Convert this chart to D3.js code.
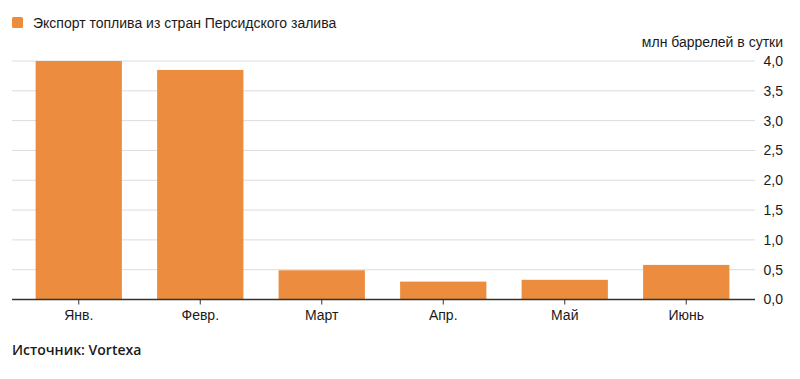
<!DOCTYPE html>
<html lang="ru">
<head>
<meta charset="UTF-8">
<title>Экспорт топлива</title>
<script src="https://d3js.org/d3.v7.min.js"></script>
<style>
  body { margin: 0; background: #fff; }
  text { font-family: "Liberation Sans", Arial, sans-serif; fill: #1a1a1a; }
  text.source { font-family: "Open Sans", sans-serif; font-weight: 600; }
</style>
</head>
<body>
<div id="chart"></div>
<script>
const months = ["Янв.", "Февр.", "Март", "Апр.", "Май", "Июнь"];
const exports = [4.0, 3.85, 0.49, 0.30, 0.33, 0.58];
const yTicks = [0, 0.5, 1, 1.5, 2, 2.5, 3, 3.5, 4];

const width = 800, height = 379;
const orange = "#eb8c3f";

const svg = d3.select("#chart").append("svg")
  .attr("width", width)
  .attr("height", height);

const x = d3.scaleBand()
  .domain(months)
  .range([18, 747])
  .paddingInner(0.29)
  .paddingOuter(0.145);

const y = d3.scaleLinear()
  .domain([0, 4])
  .range([299.5, 61]);

// gridlines
svg.append("g")
  .selectAll("line")
  .data(yTicks.filter(d => d > 0))
  .join("line")
  .attr("x1", 12).attr("x2", 755)
  .attr("y1", d => y(d)).attr("y2", d => y(d))
  .attr("stroke", "#dcdcdc")
  .attr("stroke-width", 1);

// y labels
svg.append("g")
  .selectAll("text")
  .data(yTicks)
  .join("text")
  .attr("x", 783)
  .attr("y", d => y(d))
  .attr("dy", "0.35em")
  .attr("text-anchor", "end")
  .attr("font-size", 14)
  .text(d => d3.format(".1f")(d).replace(".", ","));

svg.append("text")
  .attr("x", 783).attr("y", 47)
  .attr("text-anchor", "end")
  .attr("font-size", 14)
  .text("млн баррелей в сутки");

// bars
svg.append("g")
  .selectAll("rect")
  .data(exports)
  .join("rect")
  .attr("x", (d, i) => x(months[i]))
  .attr("width", x.bandwidth())
  .attr("y", d => y(d))
  .attr("height", d => y(0) - y(d))
  .attr("fill", orange);

// x axis
const xAxis = svg.append("g")
  .attr("transform", `translate(0, ${y(0)})`)
  .call(d3.axisBottom(x).tickSize(5).tickPadding(6).tickSizeOuter(0));
xAxis.select(".domain").attr("d", "M12,0H755").attr("stroke", "#333").attr("stroke-width", 1.3);
xAxis.selectAll(".tick line").attr("stroke", "#333");
xAxis.selectAll(".tick text")
  .attr("font-size", 14)
  .attr("fill", "#1a1a1a");

// legend
svg.append("rect")
  .attr("x", 12).attr("y", 17)
  .attr("width", 11).attr("height", 11)
  .attr("rx", 1.5)
  .attr("fill", orange);
svg.append("text")
  .attr("x", 33).attr("y", 23)
  .attr("dy", "0.35em")
  .attr("font-size", 14)
  .text("Экспорт топлива из стран Персидского залива");

// source
svg.append("text")
  .attr("class", "source")
  .attr("x", 12).attr("y", 355)
  .attr("font-size", 14)
  .text("Источник: Vortexa");
</script>
</body>
</html>
